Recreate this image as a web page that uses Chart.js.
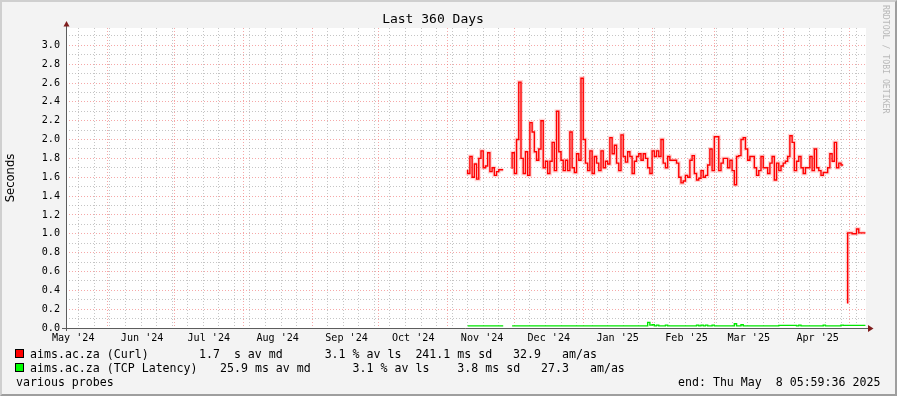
<!DOCTYPE html>
<html>
<head>
<meta charset="utf-8">
<script src="https://cdn.jsdelivr.net/npm/chart.js@4.4.1/dist/chart.umd.min.js"></script>
<style>
html, body { margin: 0; padding: 0; background: #f3f3f3; }
#wrap { position: relative; width: 897px; height: 396px; overflow: hidden; }
#frame {
    position: absolute; left: 0; top: 0; width: 897px; height: 396px; box-sizing: border-box;
    border-top: 2px solid #cfcfcf; border-left: 2px solid #cfcfcf;
    border-bottom: 2px solid #9e9e9e; border-right: 2px solid #9e9e9e;
    pointer-events: none;
}
.lg { position: absolute; font-family: 'DejaVu Sans Mono', monospace; font-size: 11.6px; line-height: 14px; white-space: pre; color: #000; }
.box { position: absolute; width: 7px; height: 7px; border: 1px solid #000; }
#wm {
    position: absolute; left: 881px; top: 5px; writing-mode: vertical-rl;
    font-family: 'DejaVu Sans Mono', monospace; font-size: 8.2px; line-height: 10px;
    color: #b8b8b8; white-space: pre;
}
</style>
</head>
<body>
<div id="wrap">
    <canvas id="rrdChart" width="897" height="396"></canvas>

    <div class="box" style="left:15px; top:349px; background:#ff0000;"></div>
    <div class="lg" style="left:30px; top:347px;">aims.ac.za (Curl)</div>
    <div class="lg" style="left:199px; top:347px;">1.7  s av md      3.1 % av ls  241.1 ms sd   32.9   am/as</div>

    <div class="box" style="left:15px; top:363px; background:#00ff00;"></div>
    <div class="lg" style="left:30px; top:361px;">aims.ac.za (TCP Latency)</div>
    <div class="lg" style="left:220px; top:361px;">25.9 ms av md      3.1 % av ls    3.8 ms sd   27.3   am/as</div>

    <div class="lg" style="left:16px; top:375px;">various probes</div>
    <div class="lg" style="left:678px; top:375px;">end: Thu May  8 05:59:36 2025</div>

    <div id="wm">RRDTOOL / TOBI OETIKER</div>
    <div id="frame"></div>
</div>

<script>
// Time window (graph end, 360 days back)
const DAY = 864e5;
const endTime = Date.UTC(2025, 4, 8, 5, 59, 36);
const spanDays = 360;
const seriesStart = Date.parse('2024-11-10'); // one value per day from here

// Month boundaries (major grid) and month labels
const monthLines = ['2024-06-01', '2024-07-01', '2024-08-01', '2024-09-01', '2024-10-01', '2024-11-01',
    '2024-12-01', '2025-01-01', '2025-02-01', '2025-03-01', '2025-04-01', '2025-05-01'];
const monthLabels = ["May '24", "Jun '24", "Jul '24", "Aug '24", "Sep '24", "Oct '24",
    "Nov '24", "Dec '24", "Jan '25", "Feb '25", "Mar '25", "Apr '25"];
const monthLabelDates = ['2024-05-16', '2024-06-16', '2024-07-16', '2024-08-16', '2024-09-16', '2024-10-16',
    '2024-11-16', '2024-12-16', '2025-01-16', '2025-02-16', '2025-03-16', '2025-04-16'];
const firstWeekLine = '2024-05-19';

// Curl median (seconds), daily
const curlSeconds = [
    1.68, 1.64, 1.82, 1.60, 1.74, 1.58, 1.80, 1.88, 1.70, 1.72,
    1.86, 1.66, 1.70, 1.62, 1.66, 1.68, 1.68, null, null, null,
    1.69, 1.86, 1.64, 2.00, 2.61, 1.80, 1.64, 1.87, 1.62, 2.18,
    2.08, 1.87, 1.78, 1.90, 2.20, 1.70, 1.77, 1.64, 1.77, 1.97,
    1.67, 2.30, 1.87, 1.78, 1.67, 1.78, 1.67, 2.08, 1.70, 1.65,
    1.85, 1.78, 2.65, 2.00, 1.75, 1.67, 1.88, 1.64, 1.82, 1.75,
    1.67, 1.88, 1.70, 1.77, 1.74, 2.02, 1.85, 1.94, 1.75, 1.67,
    2.05, 1.82, 1.76, 1.87, 1.82, 1.64, 1.77, 1.82, 1.85, 1.78,
    1.85, 1.80, 1.70, 1.64, 1.88, 1.82, 1.88, 1.82, 2.00, 1.75,
    1.70, 1.82, 1.78, 1.78, 1.78, 1.75, 1.60, 1.54, 1.56, 1.62,
    1.60, 1.78, 1.83, 1.64, 1.57, 1.59, 1.67, 1.60, 1.62, 1.73,
    1.90, 1.67, 2.03, 2.03, 1.67, 1.75, 1.80, 1.80, 1.70, 1.78,
    1.67, 1.52, 1.82, 1.83, 2.00, 2.02, 1.90, 1.78, 1.82, 1.82,
    1.70, 1.62, 1.67, 1.82, 1.70, 1.70, 1.64, 1.75, 1.82, 1.57,
    1.75, 1.67, 1.72, 1.75, 1.77, 1.82, 2.04, 1.97, 1.67, 1.77,
    1.82, 1.70, 1.64, 1.70, 1.70, 1.82, 1.67, 1.90, 1.70, 1.67,
    1.62, 1.65, 1.65, 1.70, 1.85, 1.77, 1.97, 1.70, 1.75, 1.73,
    null, 0.26, 1.01, 1.01, 1.00, 1.00, 1.05, 1.01, 1.01, 1.01
];

// TCP latency median (seconds), daily
const tcpSeconds = [
    0.023, 0.023, 0.023, 0.023, 0.023, 0.023, 0.023, 0.023, 0.023, 0.023,
    0.023, 0.023, 0.023, 0.023, 0.023, 0.023, 0.023, null, null, null,
    0.023, 0.023, 0.023, 0.023, 0.023, 0.023, 0.023, 0.023, 0.023, 0.023,
    0.023, 0.023, 0.023, 0.023, 0.023, 0.023, 0.023, 0.023, 0.023, 0.023,
    0.023, 0.023, 0.023, 0.023, 0.023, 0.023, 0.023, 0.023, 0.023, 0.023,
    0.023, 0.023, 0.023, 0.023, 0.023, 0.023, 0.023, 0.023, 0.023, 0.023,
    0.023, 0.023, 0.023, 0.023, 0.023, 0.023, 0.023, 0.023, 0.023, 0.023,
    0.023, 0.023, 0.023, 0.023, 0.023, 0.023, 0.023, 0.023, 0.023, 0.023,
    0.023, 0.023, 0.060, 0.030, 0.035, 0.023, 0.030, 0.023, 0.023, 0.023,
    0.030, 0.023, 0.023, 0.023, 0.023, 0.023, 0.023, 0.023, 0.023, 0.023,
    0.023, 0.023, 0.023, 0.023, 0.030, 0.023, 0.030, 0.023, 0.030, 0.023,
    0.023, 0.030, 0.023, 0.023, 0.023, 0.023, 0.023, 0.023, 0.023, 0.023,
    0.023, 0.045, 0.023, 0.023, 0.035, 0.023, 0.023, 0.023, 0.023, 0.023,
    0.023, 0.023, 0.023, 0.023, 0.023, 0.023, 0.023, 0.023, 0.023, 0.023,
    0.023, 0.028, 0.028, 0.028, 0.028, 0.028, 0.028, 0.028, 0.028, 0.023,
    0.030, 0.023, 0.023, 0.023, 0.023, 0.023, 0.023, 0.023, 0.023, 0.023,
    0.023, 0.030, 0.023, 0.023, 0.023, 0.023, 0.023, 0.023, 0.023, 0.030,
    0.028, 0.028, 0.028, 0.028, 0.028, 0.028, 0.028, 0.028, 0.028, 0.028
];

const yMax = 3.184;
const minorGrid = 'rgba(150,150,150,0.55)';
const majorGrid = 'rgba(240,110,110,0.6)';
const tickFont = { family: 'DejaVu Sans Mono', size: 10.1 };

// x grid: weekly (minor), monthly (major) and label positions
const xStart = endTime - spanDays * DAY;
const xKind = new Map();
for (let t = Date.parse(firstWeekLine); t < endTime; t += 7 * DAY) xKind.set(t, 'week');
monthLines.forEach(d => xKind.set(Date.parse(d), 'month'));
const labelAt = new Map();
monthLabelDates.forEach((d, i) => {
    const t = Date.parse(d) + DAY / 2;
    xKind.set(t, 'label');
    labelAt.set(t, monthLabels[i]);
});
const xTickValues = [...xKind.keys()].filter(t => t > xStart && t < endTime).sort((a, b) => a - b);

const yTickValues = [];
for (let k = 0; k <= 31; k++) yTickValues.push(k / 10);

const toPoints = arr => arr.map((v, i) => ({ x: seriesStart + i * DAY, y: v }));

// Canvas background, white plot area, axes with arrows
const rrdFrame = {
    id: 'rrdFrame',
    beforeDraw(chart) {
        const { ctx, chartArea: a } = chart;
        ctx.save();
        ctx.fillStyle = '#f3f3f3';
        ctx.fillRect(0, 0, chart.width, chart.height);
        ctx.fillStyle = '#ffffff';
        ctx.fillRect(a.left, a.top, a.right - a.left, a.bottom - a.top);
        ctx.restore();
    },
    afterDraw(chart) {
        const { ctx, chartArea: a } = chart;
        const x0 = a.left + 0.5, y0 = a.bottom + 0.5;
        ctx.save();
        ctx.strokeStyle = '#5c5c5c';
        ctx.lineWidth = 1;
        ctx.beginPath();
        ctx.moveTo(x0, a.bottom + 3);
        ctx.lineTo(x0, a.top - 3);
        ctx.moveTo(a.left - 4, y0);
        ctx.lineTo(a.right + 3, y0);
        ctx.stroke();
        ctx.fillStyle = '#7f1d1d';
        ctx.beginPath();
        ctx.moveTo(x0 - 3, a.top - 1.5);
        ctx.lineTo(x0 + 3, a.top - 1.5);
        ctx.lineTo(x0, a.top - 7);
        ctx.closePath();
        ctx.fill();
        ctx.beginPath();
        ctx.moveTo(a.right + 2, y0 - 3.5);
        ctx.lineTo(a.right + 2, y0 + 3.5);
        ctx.lineTo(a.right + 7.5, y0);
        ctx.closePath();
        ctx.fill();
        ctx.restore();
    }
};

const curlPoints = toPoints(curlSeconds);

new Chart(document.getElementById('rrdChart').getContext('2d'), {
    type: 'line',
    data: {
        datasets: [
            {
                // smoke around the median
                data: curlPoints,
                borderColor: 'rgba(255,0,0,0.16)',
                borderWidth: 4,
                stepped: 'after',
                pointRadius: 0,
                order: 3
            },
            {
                label: 'aims.ac.za (Curl)',
                data: curlPoints,
                borderColor: '#ff0000',
                borderWidth: 1.4,
                stepped: 'after',
                pointRadius: 0,
                order: 2
            },
            {
                label: 'aims.ac.za (TCP Latency)',
                data: toPoints(tcpSeconds),
                borderColor: '#00e600',
                borderWidth: 1.4,
                stepped: 'after',
                pointRadius: 0,
                order: 1
            }
        ]
    },
    options: {
        responsive: false,
        devicePixelRatio: 1,
        animation: false,
        events: [],
        layout: { padding: { left: 0, right: 31, top: 0, bottom: 48 } },
        plugins: {
            legend: { display: false },
            tooltip: { enabled: false },
            title: {
                display: true,
                text: 'Last 360 Days',
                color: '#000',
                font: { family: 'DejaVu Sans Mono', size: 13, weight: 'normal' },
                padding: { top: 12, bottom: 0.4 }
            }
        },
        scales: {
            x: {
                type: 'linear',
                min: xStart,
                max: endTime,
                afterBuildTicks: s => { s.ticks = xTickValues.map(v => ({ value: v })); },
                afterFit: s => { s.height = 20; },
                grid: {
                    drawTicks: false,
                    color: ctx => {
                        const k = ctx.tick ? xKind.get(ctx.tick.value) : null;
                        if (k === 'month') return majorGrid;
                        if (k === 'week') return minorGrid;
                        return 'rgba(0,0,0,0)';
                    }
                },
                border: { display: false, dash: [1, 2] },
                ticks: {
                    autoSkip: false,
                    maxRotation: 0,
                    minRotation: 0,
                    padding: 4,
                    color: '#000',
                    font: tickFont,
                    callback: v => labelAt.get(v) || ''
                }
            },
            y: {
                min: 0,
                max: yMax,
                afterBuildTicks: s => { s.ticks = yTickValues.map(v => ({ value: v })); },
                afterFit: s => { s.width = 66; },
                grid: {
                    drawTicks: false,
                    color: ctx => (ctx.tick && Math.round(ctx.tick.value * 10) % 2 === 0) ? majorGrid : minorGrid
                },
                border: { display: false, dash: [1, 2] },
                ticks: {
                    autoSkip: false,
                    padding: 6,
                    color: '#000',
                    font: tickFont,
                    callback: v => Math.round(v * 10) % 2 === 0 ? v.toFixed(1) : ''
                },
                title: {
                    display: true,
                    text: 'Seconds',
                    color: '#000',
                    font: { family: 'DejaVu Sans', size: 11.6 },
                    padding: { top: 4, bottom: 0 }
                }
            }
        }
    },
    plugins: [rrdFrame]
});
</script>
</body>
</html>
